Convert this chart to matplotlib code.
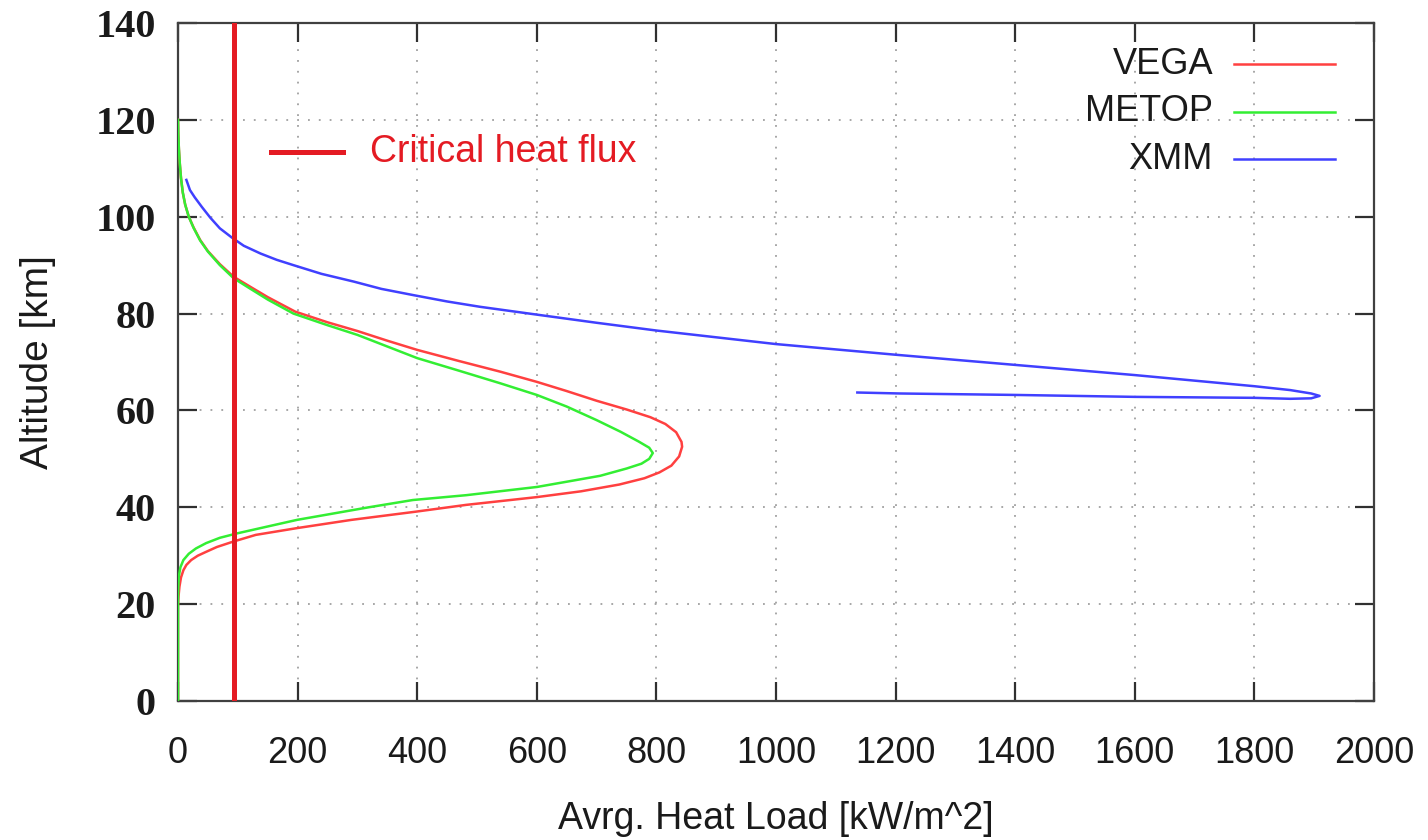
import matplotlib
matplotlib.use('Agg')
import matplotlib.pyplot as plt

# Dane: obciazenie cieplne [kW/m^2] i wysokosc [km]
vega_heat = [0, 0.5, 1.5, 3, 5, 8, 12, 18, 26, 37, 50, 70, 93, 120, 150, 196, 250, 300, 350, 400,
             470, 539, 600, 650, 700, 750, 790, 815, 833, 842, 843, 838, 825, 805, 780, 738, 674,
             600, 482, 398, 290, 199, 130, 92, 65, 47, 33, 22, 14, 9, 5, 2.4, 0.8, 0, 0]
vega_alt = [120, 117, 114, 111, 108, 105, 102.5, 100, 97.8, 95.2, 92.9, 90.2, 87.6, 85.6, 83.4, 80.4,
            78.2, 76.4, 74.4, 72.5, 70.2, 68.0, 65.9, 64.0, 62.0, 60.2, 58.6, 57.2, 55.5, 53.5, 52.5,
            50.5, 48.6, 47.2, 46.0, 44.7, 43.3, 42.1, 40.5, 39.1, 37.4, 35.7, 34.3, 32.9, 31.8, 30.8,
            30.0, 29.1, 28.1, 27.0, 25.5, 23.6, 21.5, 19.5, 0]

metop_heat = [0, 0.5, 1.5, 3, 5, 8, 12, 18, 26, 37, 50, 70, 93, 120, 150, 193, 250, 300, 350, 400,
              470, 539, 600, 650, 700, 740, 770, 788, 794, 788, 775, 750, 706, 600.5, 482, 392.7, 319,
              199, 98.4, 70, 47, 30, 18, 9, 4, 1.3, 0.3, 0, 0]
metop_alt = [120, 117, 114, 111, 108, 105, 102.5, 100, 97.7, 95.1, 92.8, 90.0, 87.3, 85.2, 82.9, 80.0,
             77.6, 75.6, 73.2, 70.8, 68.2, 65.6, 63.2, 60.8, 58.0, 55.6, 53.6, 52.3, 51.2, 50.0, 49.0,
             48.0, 46.5, 44.2, 42.5, 41.5, 40.0, 37.4, 34.6, 33.7, 32.6, 31.5, 30.4, 29.1, 27.6, 25.7,
             23.0, 20.9, 0]

xmm_heat = [14, 20, 28, 40, 54, 70, 90, 110, 138, 165, 193, 240, 294, 340, 394, 450, 505, 599, 700,
            800, 1000, 1200, 1400, 1600, 1800, 1860, 1895, 1909, 1895, 1860, 1800, 1600, 1400, 1207,
            1136]
xmm_alt = [107.6, 105.5, 104.0, 102.0, 99.8, 97.6, 95.7, 94.0, 92.4, 91.1, 90.0, 88.2, 86.6, 85.1,
           83.8, 82.5, 81.4, 79.8, 78.1, 76.5, 73.7, 71.5, 69.4, 67.3, 65.0, 64.2, 63.5, 63.0, 62.5,
           62.4, 62.6, 62.8, 63.2, 63.5, 63.7]

critical_flux = 93

series_names = ['VEGA', 'METOP', 'XMM']
series_colors = ['#ff4040', '#33ee33', '#4040ff']
x_ticks = list(range(0, 2001, 200))
y_ticks = list(range(0, 141, 20))

text_color = '#1a1a1a'
crit_color = '#e41b23'

fig = plt.figure(figsize=(14.28, 8.4), dpi=100)
ax = fig.add_axes([178 / 1428, 1 - 701 / 840, 1196 / 1428, 678 / 840])

# Krzywe
curves = [(vega_heat, vega_alt), (metop_heat, metop_alt), (xmm_heat, xmm_alt)]
for (hx, hy), c in zip(curves, series_colors):
    ax.plot(hx, hy, color=c, linewidth=1.8, zorder=3, solid_joinstyle='round')

ax.axvline(critical_flux, color=crit_color, linewidth=3.6, zorder=4)

ax.set_xlim(0, 2000)
ax.set_ylim(0, 140)
ax.set_xticks(x_ticks)
ax.set_yticks(y_ticks)
ax.grid(True, color='#a0a0a0', linestyle=(0, (1, 5)), linewidth=1.3)

for s in ax.spines.values():
    s.set_color('#404040')
    s.set_linewidth(1.6)

ax.tick_params(axis='both', direction='in', length=14, width=1.6, color='#303030',
               top=True, right=True)
ax.tick_params(axis='x', pad=25, labelsize=26, labelcolor=text_color)
ax.tick_params(axis='y', pad=16, labelsize=29, labelcolor=text_color)
for lbl in ax.get_xticklabels():
    lbl.set_family('Liberation Sans')
for lbl in ax.get_yticklabels():
    lbl.set_family('Liberation Serif')
    lbl.set_weight('bold')

ax.set_xlabel('Avrg. Heat Load [kW/m^2]', fontsize=27, family='Liberation Sans',
              color=text_color, labelpad=22)
ax.set_ylabel('Altitude [km]', fontsize=28, family='Liberation Sans',
              color=text_color, labelpad=28)

# Legenda serii (tekst wyrownany do prawej, linia po prawej)
legend_y = [0.939, 0.8692, 0.7994]
for name, c, ly in zip(series_names, series_colors, legend_y):
    ax.text(0.8654, ly, name, transform=ax.transAxes, ha='right', va='center',
            fontsize=26, family='Liberation Sans', color=text_color)
    ax.plot([0.883, 0.9674], [ly, ly], transform=ax.transAxes, color=c,
            linewidth=1.8, clip_on=False)

# Legenda strumienia krytycznego
ax.plot([0.0778, 0.138], [0.809, 0.809], transform=ax.transAxes, color=crit_color,
        linewidth=3.6, clip_on=False)
ax.text(0.1605, 0.809, 'Critical heat flux', transform=ax.transAxes, ha='left', va='center',
        fontsize=27, family='Liberation Sans', color=crit_color)

fig.savefig('out.png', dpi=100)
plt.close(fig)
